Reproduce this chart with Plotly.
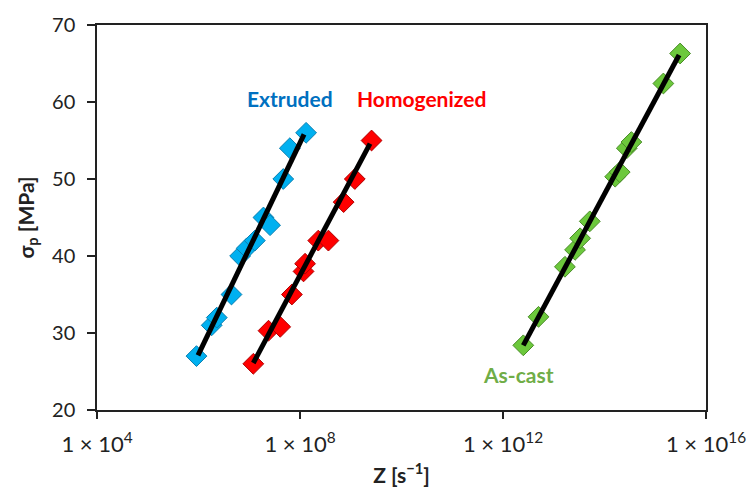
import numpy as np
import plotly.graph_objects as go

# Data: Z [s^-1] (log10) and peak stress [MPa]
ext_logz = [5.96, 6.26, 6.36, 6.65, 6.82, 6.95, 7.11, 7.28, 7.41, 7.67, 7.80, 8.12]
ext_sig = [27, 31, 32, 35, 40, 41, 42, 45, 44, 50, 54, 56]

hom_logz = [7.08, 7.38, 7.61, 7.84, 8.07, 8.10, 8.36, 8.56, 8.86, 9.08, 9.41]
hom_sig = [26, 30.3, 30.8, 35, 38, 39, 42, 42, 47, 50, 55]

cast_logz = [12.40, 12.70, 13.22, 13.42, 13.52, 13.71, 14.21, 14.30, 14.44, 14.53, 15.16, 15.49]
cast_sig = [28.4, 32.1, 38.6, 40.8, 42.3, 44.5, 50.3, 50.9, 54.0, 54.8, 62.4, 66.3]

# Fitted line end points
ext_fit_logz = [5.99, 8.08]
ext_fit_sig = [27.1, 55.8]
hom_fit_logz = [7.08, 9.38]
hom_fit_sig = [26.1, 54.6]
cast_fit_logz = [12.40, 15.47]
cast_fit_sig = [28.4, 66.1]

tick_vals = [1e4, 1e8, 1e12, 1e16]
tick_text = ["1 × 10<sup>4</sup>", "1 × 10<sup>8</sup>", "1 × 10<sup>12</sup>", "1 × 10<sup>16</sup>"]

FONT = "Lato"

def tz(v):
    return [10 ** a for a in v]

fig = go.Figure()

series = [
    (ext_logz, ext_sig, "#00B0F0", "#0A7FB0"),
    (hom_logz, hom_sig, "#FF0000", "#B00000"),
    (cast_logz, cast_sig, "#6CC83C", "#4A8C28"),
]
for lz, s, fill, edge in series:
    fig.add_trace(go.Scatter(
        x=tz(lz), y=s, mode="markers",
        marker=dict(symbol="diamond", size=16, color=fill,
                    line=dict(color=edge, width=1)),
        showlegend=False))

for lz, s in [(ext_fit_logz, ext_fit_sig), (hom_fit_logz, hom_fit_sig),
              (cast_fit_logz, cast_fit_sig)]:
    fig.add_trace(go.Scatter(
        x=tz(lz), y=s, mode="lines",
        line=dict(color="black", width=5), showlegend=False))

fig.add_annotation(x=7.8, y=60.5, xref="x", yref="y",
                   text="<b>Extruded</b>", showarrow=False,
                   font=dict(family=FONT, size=21, color="#0070C0"))
fig.add_annotation(x=10.4, y=60.5, xref="x", yref="y",
                   text="<b>Homogenized</b>", showarrow=False,
                   font=dict(family=FONT, size=21, color="#FF0000"))
fig.add_annotation(x=12.3, y=24.6, xref="x", yref="y",
                   text="<b>As-cast</b>", showarrow=False,
                   font=dict(family=FONT, size=21, color="#70AD47"))

# page body has an 8px margin on left/top, so the figure is 8px smaller
fig.update_layout(
    width=747, height=485,
    margin=dict(l=89, r=49, t=17, b=83),
    plot_bgcolor="white", paper_bgcolor="white",
    font=dict(family=FONT, size=20, color="#222"),
)
fig.update_xaxes(
    type="log", range=[4, 16], tickvals=tick_vals, ticktext=tick_text,
    showgrid=False, zeroline=False, showline=True, linecolor="#222",
    linewidth=1.5, mirror=True, ticks="outside", ticklen=7, tickwidth=1.5,
    tickcolor="#222", ticklabelstandoff=7, automargin=False,
    tickfont=dict(family=FONT, size=22),
    title=dict(text="<b>Z [s<sup>−1</sup>]</b>", font=dict(family=FONT, size=21),
               standoff=12),
)
fig.update_yaxes(
    range=[20, 70], dtick=10, showgrid=False, zeroline=False, showline=True,
    linecolor="#222", linewidth=1.5, mirror=True, ticks="outside", ticklen=8,
    tickwidth=1.5, tickcolor="#222", ticklabelstandoff=8, automargin=False,
    title=dict(text="<b>σ<sub>p</sub> [MPa]</b>", font=dict(family=FONT, size=21),
               standoff=12),
)

fig.write_html("out.html")
